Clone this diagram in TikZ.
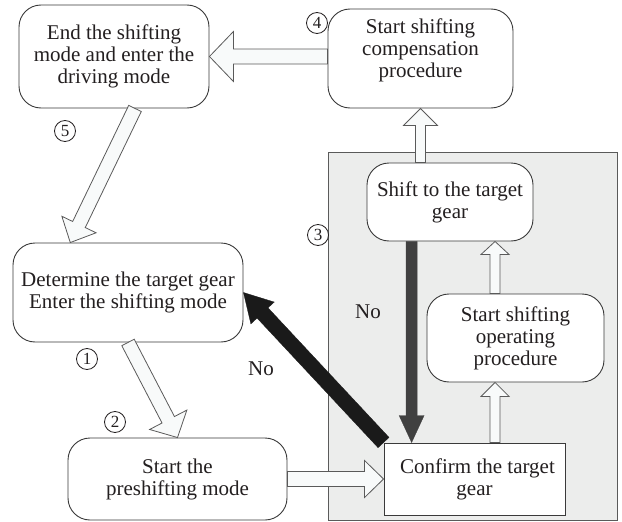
\documentclass[tikz,border=0pt]{standalone}
\usepackage{fontspec}
\setmainfont{Liberation Serif}
\usetikzlibrary{calc}
\definecolor{linec}{HTML}{3A3A3A}
\definecolor{txtc}{HTML}{231F20}
\definecolor{panelfill}{HTML}{ECEDEC}
\definecolor{paneldraw}{HTML}{5A5A5A}
\definecolor{hollowfill}{HTML}{F8FAFA}
\definecolor{darkone}{HTML}{404040}
\definecolor{darktwo}{HTML}{1A1A1A}
\newcommand{\boxfont}{\fontsize{21pt}{22pt}\selectfont}
\newcommand{\numfont}{\fontsize{17pt}{17pt}\selectfont}
\begin{document}
\begin{tikzpicture}[x=1pt,y=-1pt,
  box/.style={draw=linec, line width=0.9pt, fill=white, rounded corners=22pt,
    align=center, font=\boxfont, text=txtc, inner sep=0pt},
  sharpbox/.style={box, sharp corners},
  txt/.style={align=center, font=\boxfont, text=txtc, inner sep=0pt},
  panel/.style={draw=paneldraw, line width=0.9pt, fill=panelfill, inner sep=0pt},
  circnum/.style={circle, draw=txtc, line width=0.8pt, minimum size=21pt,
    inner sep=0pt, font=\numfont, text=txtc},
  hollow/.style={draw=paneldraw, line width=0.8pt, fill=hollowfill},
  darkarrow/.style={fill=darkone, draw=darkone, line width=0.3pt},
  blackarrow/.style={fill=darktwo, draw=darktwo, line width=0.3pt},
  barrow/.style n args={3}{to path={
    let \p1=(\tikztostart), \p2=(\tikztotarget),
        \n1={atan2(\y2-\y1,\x2-\x1)},
        \n2={veclen(\x2-\x1,\y2-\y1)-#3}
    in ($(\p1)+({\n1+90}:#1pt)$)
    -- ($(\p1)+(\n1:\n2)+({\n1+90}:#1pt)$)
    -- ($(\p1)+(\n1:\n2)+({\n1+90}:#2pt)$)
    -- (\p2)
    -- ($(\p1)+(\n1:\n2)+({\n1-90}:#2pt)$)
    -- ($(\p1)+(\n1:\n2)+({\n1-90}:#1pt)$)
    -- ($(\p1)+({\n1-90}:#1pt)$) -- cycle}}
]
\useasboundingbox (0,0) rectangle (622,522);

% shaded group
\node[panel, minimum width=289pt, minimum height=368pt] (P) at (472.5,336) {};

% boxes
\node[box, minimum width=190pt, minimum height=103pt] (A) at (114,56.5)
  {End the shifting\\mode and enter the\\driving mode};
\node[box, minimum width=185pt, minimum height=99pt] (B) at (420.5,58.5) {};
\node[txt] (Bt) at (420.5,50) {Start shifting\\compensation\\procedure};
\node[box, minimum width=166pt, minimum height=78pt] (C) at (450,202)
  {Shift to the target\\gear};
\node[box, minimum width=177pt, minimum height=88pt] (D) at (515.5,338)
  {Start shifting\\operating\\procedure};
\node[sharpbox, minimum width=181pt, minimum height=72pt] (E) at (474.5,479)
  {\hspace*{6pt}Confirm the target\\gear};
\node[box, minimum width=230pt, minimum height=99pt] (F) at (128,292.5)
  {Determine the target gear\\Enter the shifting mode};
\node[box, minimum width=219pt, minimum height=82pt] (G) at (177.5,479)
  {Start the\\preshifting mode};

% helper coordinates
\coordinate (af1) at ($(A.south west)!0.61!(A.south east)$);
\coordinate (af2) at ($(F.north west)!0.25!(F.north east)$);
\coordinate (xd) at ($(D.south west)!0.385!(D.south east)$);
\coordinate (xc) at ($(C.south west)!0.27!(C.south east)$);

% hollow arrows
\draw[hollow] (A.east -| B.west) to[barrow={7.5}{25}{24}] (A.east);
\draw[hollow] (af1) to[barrow={7}{19}{20}] (af2);
\draw[hollow] (F.south) to[barrow={7}{21}{20}] (G.north);
\draw[hollow] (G.east) to[barrow={7.5}{18.5}{19}] (E.west);
\draw[hollow] (B.south |- C.north) to[barrow={5}{17}{17}] (B.south);
\draw[hollow] (xd |- D.north) to[barrow={5}{14}{13}] (xd |- C.south);
\draw[hollow] (xd |- E.north) to[barrow={5}{14}{14}] (xd |- D.south);

% dark arrows
\draw[darkarrow] (xc) to[barrow={5.5}{12.5}{27}] (xc |- E.north);
\draw[blackarrow] (E.north west) to[barrow={7.5}{16}{28}] (F.east);

% labels
\node[txt] (no1) at (261,369) {No};
\node[txt] (no2) at (368,312) {No};
\node[circnum] (n1) at (87,359) {1};
\node[circnum] (n2) at (115,422) {2};
\node[circnum] (n3) at (318,235) {3};
\node[circnum] (n4) at (317,23) {4};
\node[circnum] (n5) at (65,131) {5};
\end{tikzpicture}
\end{document}
